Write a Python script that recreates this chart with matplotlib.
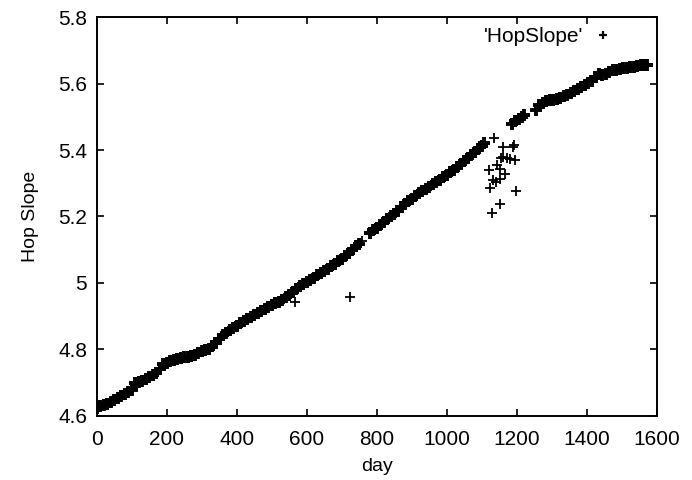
import matplotlib
matplotlib.use('Agg')
import matplotlib.pyplot as plt
from matplotlib.ticker import FuncFormatter

# 读图得到的数据 (day, Hop Slope)
days_a = [0, 10, 20, 30, 40, 50, 60, 70, 80, 90, 100]
slope_a = [4.622, 4.628, 4.633, 4.636, 4.642, 4.648, 4.652, 4.658, 4.664, 4.672, 4.676]

days_b = [110, 120, 130, 140, 150, 160, 170, 180, 190, 200, 210, 220, 230, 240, 250,
          260, 270, 280, 290, 300, 310, 320, 330, 340, 350, 360, 370, 380, 390, 400,
          410, 420, 430, 440, 450, 460, 470, 480, 490, 500, 510, 520, 530, 540, 550,
          560, 570, 580, 590, 600, 610, 620, 630, 640, 650, 660, 670, 680, 690, 700,
          710, 720, 730, 740, 750]
slope_b = [4.697, 4.700, 4.703, 4.710, 4.716, 4.724, 4.730, 4.742, 4.755, 4.760, 4.764,
           4.768, 4.771, 4.774, 4.776, 4.778, 4.781, 4.784, 4.789, 4.794, 4.797, 4.802,
           4.810, 4.820, 4.832, 4.842, 4.850, 4.858, 4.864, 4.870, 4.878, 4.886, 4.892,
           4.897, 4.903, 4.910, 4.916, 4.921, 4.927, 4.932, 4.938, 4.943, 4.948, 4.956,
           4.965, 4.973, 4.982, 4.990, 4.996, 5.002, 5.009, 5.016, 5.023, 5.030, 5.036,
           5.042, 5.050, 5.058, 5.066, 5.073, 5.082, 5.090, 5.100, 5.110, 5.118]

days_c = [780, 790, 800, 810, 820, 830, 840, 850, 860, 870, 880, 890, 900, 910, 920,
          930, 940, 950, 960, 970, 980, 990, 1000, 1010, 1020, 1030, 1040, 1050, 1060,
          1070, 1080, 1090, 1100, 1105]
slope_c = [5.150, 5.158, 5.166, 5.174, 5.182, 5.191, 5.200, 5.208, 5.218, 5.228, 5.238,
           5.247, 5.254, 5.262, 5.270, 5.277, 5.284, 5.290, 5.297, 5.304, 5.311, 5.318,
           5.325, 5.333, 5.341, 5.350, 5.358, 5.366, 5.375, 5.384, 5.393, 5.403, 5.413,
           5.421]

days_d = [1185, 1195, 1205, 1215, 1222]
slope_d = [5.478, 5.487, 5.494, 5.500, 5.505]

days_e = [1255, 1265, 1275, 1285, 1295, 1305, 1315, 1325, 1335, 1345, 1355, 1365, 1375,
          1385, 1395, 1405, 1415, 1425, 1435, 1445, 1455, 1465, 1475, 1485, 1495, 1505,
          1515, 1525, 1535, 1545, 1555, 1565, 1572]
slope_e = [5.520, 5.535, 5.543, 5.548, 5.550, 5.551, 5.553, 5.557, 5.562, 5.567, 5.572,
           5.578, 5.584, 5.590, 5.595, 5.601, 5.609, 5.620, 5.630, 5.625, 5.628, 5.636,
           5.640, 5.642, 5.644, 5.646, 5.648, 5.650, 5.651, 5.653, 5.655, 5.656, 5.657]

# 离群点
days_out = [566, 723, 757, 1134, 1161, 1189, 1191, 1154, 1162, 1172, 1180, 1194, 1143,
            1151, 1120, 1166, 1131, 1141, 1151, 1123, 1197, 1151, 1129]
slope_out = [4.942, 4.956, 5.125, 5.437, 5.409, 5.409, 5.415, 5.376, 5.378, 5.376, 5.374,
             5.370, 5.355, 5.343, 5.340, 5.328, 5.310, 5.305, 5.312, 5.286, 5.277, 5.238,
             5.210]

xticks = [0, 200, 400, 600, 800, 1000, 1200, 1400, 1600]
yticks = [4.6, 4.8, 5.0, 5.2, 5.4, 5.6, 5.8]

plt.rcParams['font.family'] = ['Liberation Sans', 'DejaVu Sans']

fig = plt.figure(figsize=(6.92, 4.8), dpi=100)
ax = fig.add_axes([0.140, 0.134, 0.809, 0.830])

# 主曲线: 点很密, 叠成一条粗带
days = days_a + days_b + days_c + days_d + days_e
slope = slope_a + slope_b + slope_c + slope_d + slope_e
ax.plot(days, slope, linestyle='none', marker='+', markersize=9, mew=2.8, color='black')
ax.plot(days_out, slope_out, linestyle='none', marker='+', markersize=7, mew=1.3,
        color='black')

# 图例 (gnuplot 风格)
ax.text(0.868, 0.952, "'HopSlope'", transform=ax.transAxes, ha='right', va='center',
        fontsize=15)
ax.plot([0.904], [0.955], transform=ax.transAxes, marker='+', markersize=6, mew=1.6,
        color='black')

ax.set_xlim(0, 1600)
ax.set_ylim(4.6, 5.8)
ax.set_xticks(xticks)
ax.set_yticks(yticks)
ax.yaxis.set_major_formatter(FuncFormatter(lambda v, p: '%g' % round(v, 3)))
ax.tick_params(direction='in', length=5, width=1.2, top=True, right=True,
               labelsize=15, pad=7)
ax.tick_params(axis='x', pad=10)
for s in ax.spines.values():
    s.set_linewidth(1.4)

ax.set_xlabel('day', fontsize=14, labelpad=7)
ax.set_ylabel('Hop Slope', fontsize=14, labelpad=14)

fig.savefig('out.png', dpi=100)
